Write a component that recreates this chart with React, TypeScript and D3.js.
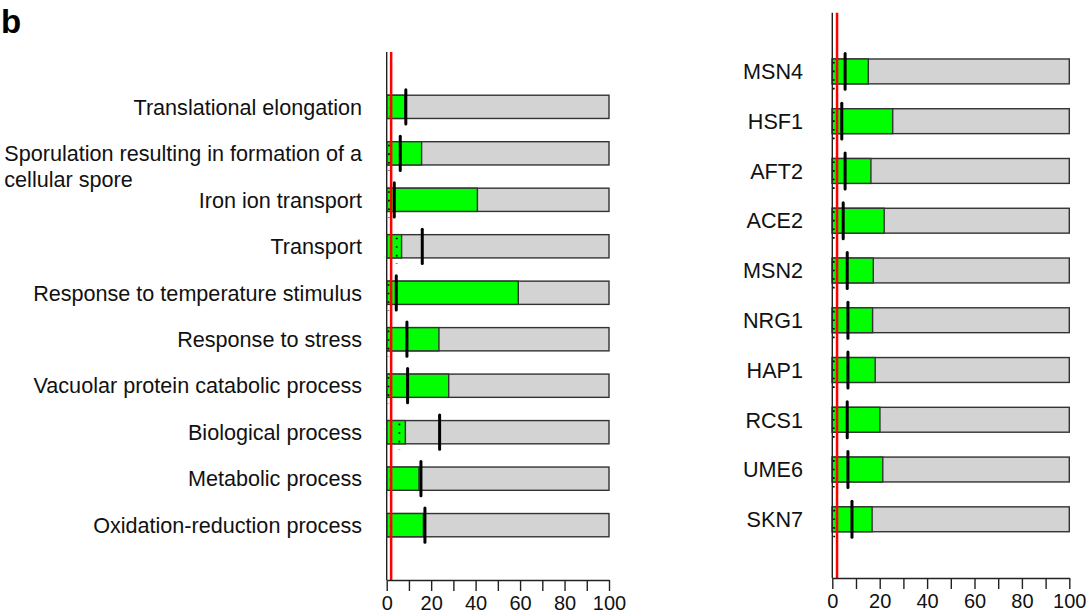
import * as d3 from 'd3';
import React, { useEffect, useRef } from 'react';

// GO terms (left panel)
const termLabels = [
  'Translational elongation',
  'Sporulation resulting in formation of a|cellular spore',
  'Iron ion transport',
  'Transport',
  'Response to temperature stimulus',
  'Response to stress',
  'Vacuolar protein catabolic process',
  'Biological process',
  'Metabolic process',
  'Oxidation-reduction process',
];
const termObserved = [8.2, 15.7, 40.8, 6.7, 59.2, 23.5, 27.9, 8.4, 14.5, 16.5];
const termExpected = [8.6, 6.1, 3.4, 16.0, 4.3, 9.1, 9.4, 23.8, 15.4, 17.2];
const termDotted = [1.8, 1, 1, 4.5, 0.8, 0.8, 0.8, 5.7, 1.8, 1.8];

// transcription factors (right panel)
const tfLabels = ['MSN4', 'HSF1', 'AFT2', 'ACE2', 'MSN2', 'NRG1', 'HAP1', 'RCS1', 'UME6', 'SKN7'];
const tfObserved = [15.2, 25.5, 16.3, 21.9, 17.3, 17.0, 18.1, 20.1, 21.3, 16.8];
const tfExpected = [5.4, 4.0, 5.4, 4.6, 6.3, 6.6, 6.6, 6.3, 6.6, 8.3];
const tfDotted = [0.6, 0.6, 0.6, 0.6, 0.6, 0.6, 0.6, 0.6, 0.6, 0.8];

const threshold = 2;
const xTicks = d3.range(0, 101, 10);

const FONT = '"Liberation Sans", Arial, Helvetica, sans-serif';
const LABEL_SIZE = '21.6px';

// draws one panel of stacked percentage bars
const drawPanel = (svg, opts) => {
  const { labels, observed, expected, dotted, x0, x1, top, bottom, labelX, paddingOuter } = opts;
  const g = svg.append('g');

  const x = d3.scaleLinear().domain([0, 100]).range([x0, x1]);
  const y = d3
    .scaleBand()
    .domain(labels)
    .range([top, bottom])
    .paddingInner(0.5)
    .paddingOuter(paddingOuter);
  const bw = y.bandwidth();

  const rows = labels.map((label, i) => ({
    label,
    obs: observed[i],
    exp: expected[i],
    dot: dotted[i],
  }));

  const row = g
    .selectAll('g.row')
    .data(rows)
    .enter()
    .append('g')
    .attr('class', 'row');

  // grey remainder, full width 0-100
  row
    .append('rect')
    .attr('x', x(0))
    .attr('y', (d) => y(d.label))
    .attr('width', x(100) - x(0))
    .attr('height', bw)
    .attr('fill', '#d3d3d3')
    .attr('stroke', '#333')
    .attr('stroke-width', 1.4);

  // green observed part
  row
    .append('rect')
    .attr('x', x(0))
    .attr('y', (d) => y(d.label))
    .attr('width', (d) => x(d.obs) - x(0))
    .attr('height', bw)
    .attr('fill', '#00ff00')
    .attr('stroke', '#333')
    .attr('stroke-width', 1.4);

  // dotted marker
  row
    .append('line')
    .attr('x1', (d) => x(d.dot))
    .attr('x2', (d) => x(d.dot))
    .attr('y1', (d) => y(d.label) + 3)
    .attr('y2', (d) => y(d.label) + bw + 6)
    .attr('stroke', '#000')
    .attr('stroke-width', 1.8)
    .attr('stroke-dasharray', '1.6,7');

  // expected value tick
  row
    .append('line')
    .attr('x1', (d) => x(d.exp))
    .attr('x2', (d) => x(d.exp))
    .attr('y1', (d) => y(d.label) - 5.5)
    .attr('y2', (d) => y(d.label) + bw + 5.5)
    .attr('stroke', '#000')
    .attr('stroke-width', 3)
    .attr('stroke-linecap', 'round');

  // labels
  row.each(function (d) {
    const cy = y(d.label) + bw / 2;
    const parts = d.label.split('|');
    const sel = d3.select(this);
    const first = sel
      .append('text')
      .attr('x', labelX)
      .attr('y', cy)
      .attr('dy', '0.36em')
      .attr('text-anchor', 'end')
      .style('font-family', FONT)
      .style('font-size', LABEL_SIZE)
      .attr('fill', '#111')
      .text(parts[0]);
    if (parts.length > 1) {
      const w = first.node().getComputedTextLength();
      sel
        .append('text')
        .attr('x', labelX - w)
        .attr('y', cy + 25.5)
        .attr('dy', '0.36em')
        .attr('text-anchor', 'start')
        .style('font-family', FONT)
        .style('font-size', LABEL_SIZE)
        .attr('fill', '#111')
        .text(parts[1]);
    }
  });

  // vertical axis line
  g.append('line')
    .attr('x1', x(0))
    .attr('x2', x(0))
    .attr('y1', top)
    .attr('y2', bottom)
    .attr('stroke', '#222')
    .attr('stroke-width', 1.4);

  // red threshold line
  g.append('line')
    .attr('x1', x(threshold))
    .attr('x2', x(threshold))
    .attr('y1', top)
    .attr('y2', bottom)
    .attr('stroke', '#ff0000')
    .attr('stroke-width', 2.5);

  // bottom axis
  const axis = d3
    .axisBottom(x)
    .tickValues(xTicks)
    .tickFormat((v) => (v % 20 === 0 ? String(v) : ''))
    .tickSize(11)
    .tickSizeOuter(0)
    .tickPadding(5);
  const ax = g.append('g').attr('transform', `translate(0, ${bottom})`).call(axis);
  ax.select('.domain').attr('stroke', '#222').attr('stroke-width', 1.4);
  ax.selectAll('.tick line').attr('stroke', '#222').attr('stroke-width', 1.4);
  ax.selectAll('.tick text')
    .style('font-family', FONT)
    .style('font-size', '20px')
    .attr('fill', '#111');
};

const EnrichmentBars = () => {
  const svgRef = useRef(null);
  const width = 1092;
  const height = 615;

  useEffect(() => {
    const svg = d3.select(svgRef.current);
    svg.selectAll('*').remove();
    svg.append('rect').attr('width', width).attr('height', height).attr('fill', '#fff');

    svg
      .append('text')
      .attr('x', 1)
      .attr('y', 33)
      .style('font-family', FONT)
      .style('font-size', '33px')
      .style('font-weight', 'bold')
      .text('b');

    drawPanel(svg, {
      labels: termLabels,
      observed: termObserved,
      expected: termExpected,
      dotted: termDotted,
      x0: 386.7,
      x1: 609,
      top: 52,
      bottom: 580,
      labelX: 362,
      paddingOuter: 0.93,
    });

    drawPanel(svg, {
      labels: tfLabels,
      observed: tfObserved,
      expected: tfExpected,
      dotted: tfDotted,
      x0: 832.3,
      x1: 1069.3,
      top: 12.7,
      bottom: 578,
      labelX: 803,
      paddingOuter: 0.93,
    });
  }, []);

  return (
    <svg
      ref={svgRef}
      width={width}
      height={height}
      style={{ position: 'absolute', left: 0, top: 0, display: 'block' }}
    ></svg>
  );
};

export default function App() {
  return <EnrichmentBars />;
}
